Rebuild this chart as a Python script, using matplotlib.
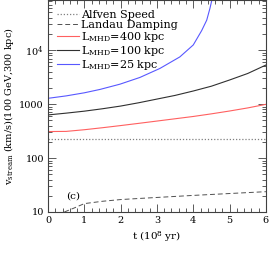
import matplotlib
matplotlib.use('Agg')
import matplotlib.pyplot as plt
from matplotlib.ticker import LogLocator, MultipleLocator, FixedLocator

plt.rcParams['font.family'] = 'DejaVu Serif'
plt.rcParams['mathtext.fontset'] = 'dejavuserif'

# values
t_alfven = [0, 6]
v_alfven = [222, 222]

t_landau = [0.45, 0.7, 1.0, 1.5, 2.0, 2.5, 3.0, 4.0, 5.0, 6.0]
v_landau = [10, 11.7, 14.3, 15.8, 17.0, 17.8, 18.6, 20.3, 22.0, 23.8]

t_std = [0, 0.5, 1, 1.5, 2, 2.5, 3, 3.5, 4, 4.5, 5, 5.5, 6]
v_400 = [310, 312, 335, 365, 400, 440, 485, 535, 590, 660, 745, 850, 990]
v_100 = [630, 680, 740, 820, 920, 1060, 1240, 1450, 1750, 2150, 2800, 3700, 5300]

t_25 = [0, 0.5, 1, 1.43, 1.98, 2.53, 3.08, 3.63, 4.0, 4.23, 4.37, 4.46, 4.52]
v_25 = [1280, 1420, 1620, 1870, 2340, 3120, 4580, 7500, 12500, 23000, 36000, 60000, 90000]

labels = ['Alfven Speed', 'Landau Damping', r'L$_{\rm MHD}$=400 kpc',
          r'L$_{\rm MHD}$=100 kpc', r'L$_{\rm MHD}$=25 kpc']

fig = plt.figure(figsize=(2.75, 2.64), dpi=100)
ax = fig.add_axes([0.1745, 0.197, 0.7925, 0.803])

ax.plot(t_alfven, v_alfven, color='#808080', ls=(0, (1, 1.5)), lw=0.9, label=labels[0])
ax.plot(t_landau, v_landau, color='#505050', ls=(0, (5, 3)), lw=0.7, label=labels[1])
ax.plot(t_std, v_400, color='#ff6060', lw=0.8, label=labels[2])
ax.plot(t_std, v_100, color='#303030', lw=0.8, label=labels[3])
ax.plot(t_25, v_25, color='#5858ff', lw=0.8, label=labels[4])

ax.set_yscale('log')
ax.set_xlim(0, 6)
ax.set_ylim(10, 10 ** 4.93)
ax.yaxis.set_major_locator(FixedLocator([10, 100, 1000, 1e4]))
ax.set_yticklabels(['10', '100', '1000', r'10$^4$'])
ax.yaxis.set_minor_locator(LogLocator(base=10, subs=range(2, 10), numticks=20))
ax.xaxis.set_major_locator(MultipleLocator(1))
ax.xaxis.set_minor_locator(MultipleLocator(0.2))

ax.tick_params(which='both', direction='in', top=True, right=True,
               labelsize=7, color='#404040', width=0.6)
ax.tick_params(which='major', length=6, pad=3)
ax.tick_params(which='minor', length=3)
for s in ax.spines.values():
    s.set_color('#404040')
    s.set_linewidth(0.8)

ax.set_xlabel(r't (10$^8$ yr)', fontsize=7.5, labelpad=3)
ax.set_ylabel(r'v$_{\rm stream}$ (km/s)(100 GeV,300 kpc)', fontsize=7, labelpad=2)
ax.text(0.7, 20, '(c)', fontsize=7.5, ha='center', va='center')

ax.legend(loc='upper left', bbox_to_anchor=(0.04, 0.955), frameon=False,
          fontsize=8, handlelength=2.0, handletextpad=0.2, labelspacing=0.0,
          borderaxespad=0, borderpad=0)

fig.savefig('out.png', dpi=100)
